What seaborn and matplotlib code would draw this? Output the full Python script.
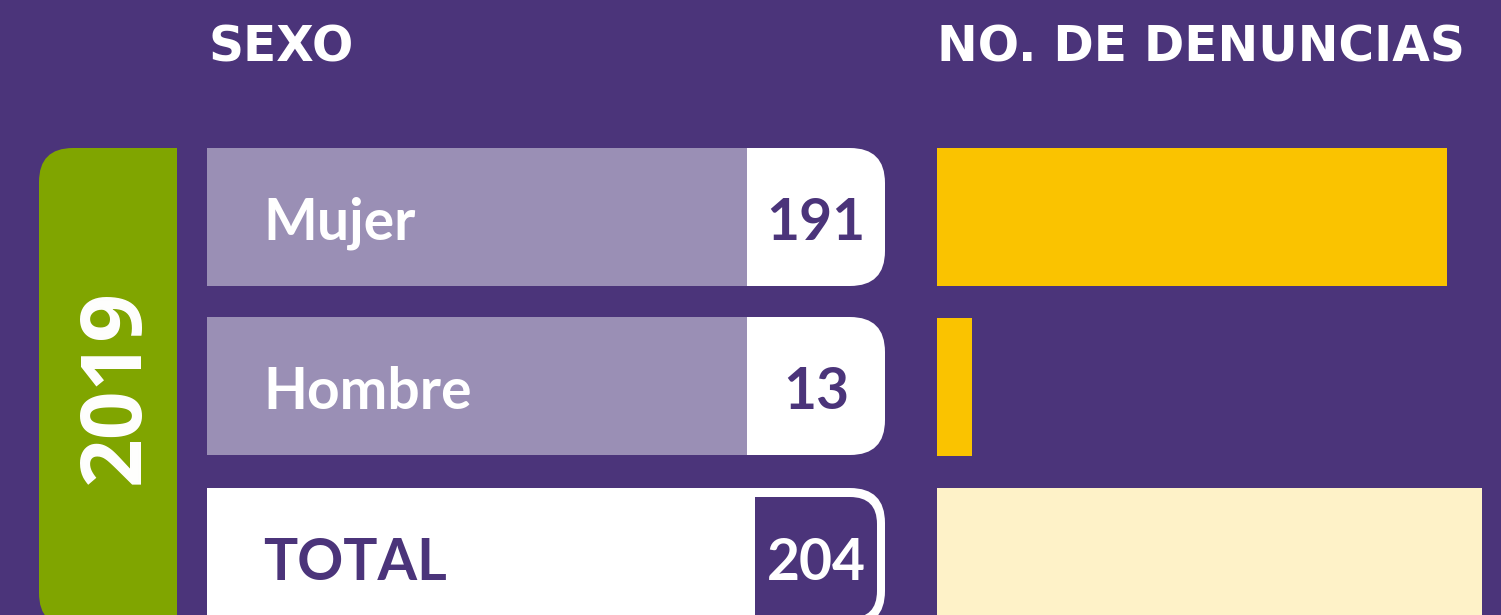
import matplotlib
matplotlib.use("Agg")
import matplotlib.pyplot as plt
import seaborn as sns
import pandas as pd
from matplotlib.patches import FancyBboxPatch, Rectangle

# ---- data ----
year = "2019"
categories = ["Mujer", "Hombre", "TOTAL"]
denuncias = [191, 13, 204]
headers = ["SEXO", "NO. DE DENUNCIAS"]

# ---- style ----
BG = "#4B347A"
LAV = "#9A8FB5"
WHITE = "#FFFFFF"
GREEN = "#80A500"
GOLD = "#FAC300"
CREAM = "#FEF2C8"

sns.set_style("white")
plt.rcParams["font.family"] = ["DejaVu Sans"]

W, H = 1501, 615
fig = plt.figure(figsize=(W / 100, H / 100), dpi=100)
fig.patch.set_facecolor(BG)

deco = fig.add_axes([0, 0, 1, 1])
deco.set_xlim(0, W)
deco.set_ylim(H, 0)
deco.axis("off")
deco.patch.set_alpha(0)


def rbox(x0, y0, x1, y1, r, color, z=2):
    deco.add_patch(FancyBboxPatch((x0, y0), x1 - x0, y1 - y0,
                                  boxstyle=f"round,pad=0,rounding_size={r}",
                                  fc=color, ec="none", zorder=z))


def rect(x0, y0, x1, y1, color, z=3):
    deco.add_patch(Rectangle((x0, y0), x1 - x0, y1 - y0, fc=color, ec="none", zorder=z))


# headers
hdr_kw = dict(fontsize=35, fontweight="bold", color=WHITE, va="baseline",
              ha="left", family=["DejaVu Sans"])
deco.text(209, 62, headers[0], **hdr_kw)
deco.text(937, 62, headers[1], **hdr_kw)

# year tab
rbox(39, 148, 177, 627, 34, GREEN)
rect(140, 148, 177, 627, GREEN)
deco.text(139, 386.5, year, rotation=90, rotation_mode="anchor", ha="center",
          va="baseline", fontsize=61.5, fontweight="bold", color=WHITE,
          family=["Open Sans", "DejaVu Sans"], zorder=5)

row_tops = [148, 317, 488]
row_h = 138
lab_kw = dict(fontsize=41, fontweight="bold", va="baseline",
              family=["Lato", "DejaVu Sans"], zorder=6)
for i, (cat, val) in enumerate(zip(categories, denuncias)):
    top = row_tops[i]
    bot = top + row_h
    is_total = cat.upper() == "TOTAL"
    rbox(712, top, 885, bot, 35, WHITE, z=2)
    if is_total:
        rbox(715, top + 9, 877, bot - 8, 27, BG, z=3)
        rect(207, top, 755, bot, WHITE, z=4)
        deco.text(263, top + 92, cat, color=BG, ha="left", **lab_kw)
        deco.text(816, top + 92, str(val), color=WHITE, ha="center", **lab_kw)
    else:
        rect(207, top, 747, bot, LAV, z=4)
        deco.text(263, top + 92, cat, color=WHITE, ha="left", **lab_kw)
        deco.text(816, top + 92, str(val), color=BG, ha="center", **lab_kw)

# bars (seaborn)
bx_left = 937
bx = fig.add_axes([bx_left / W, 0, (W - bx_left) / W, 1])
bx.patch.set_alpha(0)
df = pd.DataFrame({"sexo": categories, "denuncias": denuncias})
sns.barplot(data=df, x="denuncias", y="sexo", hue="sexo",
            palette=[GOLD, GOLD, CREAM], orient="h", width=0.812,
            saturation=1, legend=False, linewidth=0, edgecolor="none", ax=bx)
px_per_unit = 2.67
bx.set_xlim(0, (W - bx_left) / px_per_unit)
pitch = 170
c0 = 217
bx.set_ylim((H - c0) / pitch, -c0 / pitch)
bx.axis("off")

fig.savefig("out.png", dpi=100, facecolor=BG)
